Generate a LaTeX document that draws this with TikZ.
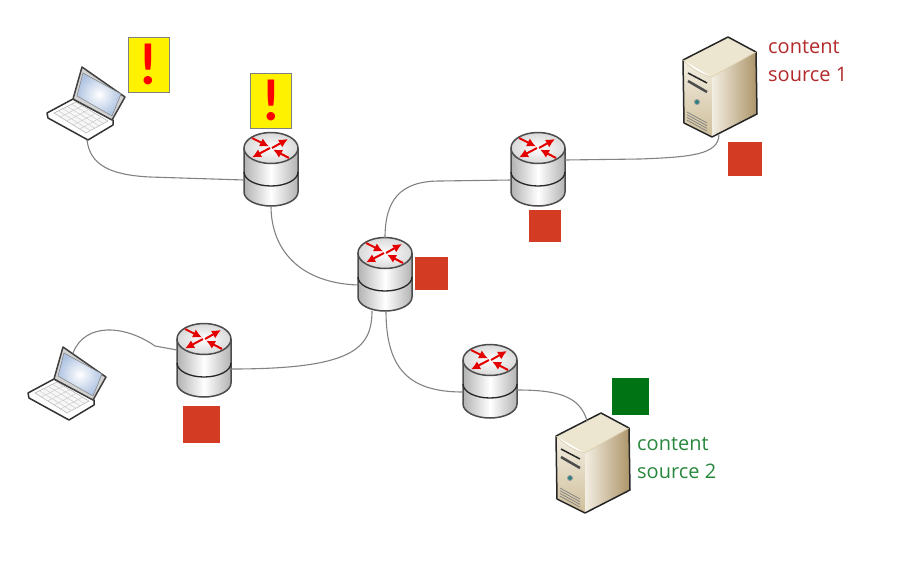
\documentclass[tikz,border=0pt]{standalone}
\usepackage{fontspec}
\setmainfont{Open Sans}
\newfontfamily\bangfont{Lato}
\usetikzlibrary{arrows.meta,calc}

\definecolor{squarered}{RGB}{211,60,35}
\definecolor{squaregreen}{RGB}{0,115,20}
\definecolor{labelred}{RGB}{178,42,42}
\definecolor{labelgreen}{RGB}{40,135,60}
\definecolor{cable}{RGB}{130,130,130}
\definecolor{servertop}{RGB}{236,229,208}
\definecolor{serverlight}{RGB}{243,238,226}
\definecolor{servermid}{RGB}{218,204,170}
\definecolor{serverdark}{RGB}{172,148,104}
\definecolor{screenblue}{RGB}{176,196,226}

\tikzset{
	link/.style = {draw=cable, line width=1.1pt},
	marker/.style = {inner sep=0, draw=none, minimum width=#1, minimum height=#1},
	alert/.style = {inner sep=0, fill=yellow, draw=gray, line width=1pt, minimum width=41pt, minimum height=55pt,
		text=red, font=\fontsize{56}{56}\selectfont\bangfont\bfseries},
	sourcelabel/.style = {anchor=north west, align=left, inner sep=0, font=\fontsize{20}{28}\selectfont},
	router/.pic = {
		\shade[left color=gray!60, right color=gray!60, middle color=white] (-27,0) -- (-27,44)
			arc[start angle=180, end angle=0, x radius=27, y radius=14] -- (27,0) -- cycle;
		\shade[inner color=white, outer color=gray!30] (0,0) ellipse[x radius=27, y radius=15.5];
		\draw[black!70, line width=1.5pt] (0,0) ellipse[x radius=27, y radius=15.5];
		\draw[black!70, line width=1.5pt] (-27,0) -- (-27,44)
			arc[start angle=180, end angle=0, x radius=27, y radius=14] -- (27,0);
		\draw[black!85, line width=1.3pt] (-27,24) arc[start angle=180, end angle=0, x radius=27, y radius=14];
		\foreach \xa/\ya/\xb/\yb in {1/0/17/-9, -1/0/-19/9.5, -19/-10/-2/-1.5, 18/10/2/1.5}
			\draw[-{Latex[length=9pt,width=9pt]}, red!90!black, line width=2pt] (\xa,\ya) -- (\xb,\yb);
		\coordinate (-left) at (-27,32);
		\coordinate (-right) at (27,12);
		\coordinate (-top) at (0,-15);
		\coordinate (-bottom) at (0,58);
	},
	laptop/.pic = {
		\draw[black!80, fill=white, line width=1.5pt, line join=round] (-9,32) -- (-35,46) -- (-34,51) -- (6,73) -- (31,58) -- (31,53) -- (-9,32);
		\draw[gray!60, fill=gray!6, line width=0.5pt] (-28,46) -- (-6,35) -- (26,54) -- (4,66) -- cycle;
		\foreach \t in {0.2,0.4,0.6,0.8} {
			\draw[gray!40, line width=0.5pt] ($(-28,46)!\t!(-6,35)$) -- ($(4,66)!\t!(26,54)$);
			\draw[gray!40, line width=0.5pt] ($(-28,46)!\t!(4,66)$) -- ($(-6,35)!\t!(26,54)$);
		}
		\draw[black!75, fill=gray!35, line width=1.5pt, line join=round] (0,0) -- (43,30) -- (30,53) -- (-9,32) -- cycle;
		\shade[inner color=white, outer color=screenblue] (1,6) -- (39,27) -- (30,49) -- (-5,29) -- cycle;
		\draw[gray, line width=0.5pt] (1,6) -- (39,27) -- (30,49) -- (-5,29) -- cycle;
		\coordinate (-base) at (5,73);
		\coordinate (-lid) at (10,6);
	},
	server/.pic = {
		\fill[servertop] (0,0) -- (28,15) -- (-16,40) -- (-45,23) -- cycle;
		\shade[top color=serverlight, bottom color=servermid!75!serverdark] (-45,23) .. controls (-35,33) and (-25,38) .. (-16,40) -- (-16,100) -- (-44,86) -- cycle;
		\shade[left color=serverlight, right color=serverdark] (-16,40) -- (28,15) -- (29,77) -- (-16,100) -- cycle;
		\draw[black!85, line width=1.5pt, line join=round] (0,0) -- (28,15) -- (29,77) -- (-16,100) -- (-44,86) -- (-45,23) -- cycle;
		\draw[servermid, line width=0.6pt] (-45,23) .. controls (-35,33) and (-25,38) .. (-16,40) -- (28,15);
		\draw[black!85, line width=1.5pt] (-40,36) -- (-21,46);
		\draw[black!70, line width=2.5pt] (-40,44) -- (-21,55);
		\fill[teal!70!gray, draw=gray!80, line width=0.8pt] (-31,65) circle (2.5pt);
		\foreach \k in {0,2.7,5.4,8.1}
			\draw[gray, line width=0.7pt] (-41,{75+\k}) -- (-21,{86+\k});
		\coordinate (-cable) at (-9,98);
		\coordinate (-top) at (-14,8);
	}
}

\begin{document}
\begin{tikzpicture}[x=1pt, y=-1pt]
	\useasboundingbox (0,0) rectangle (900,574);

	\pic (lap1) at (82,67) {laptop};
	\pic (lap2) at (63,347) {laptop};
	\pic (edge1) at (271,148) {router};
	\pic (core) at (385,253) {router};
	\pic (edge2) at (538,148) {router};
	\pic (edge3) at (204,339) {router};
	\pic (edge4) at (490,360) {router};
	\pic (srv1) at (728,37) {server};
	\pic (srv2) at (601,413) {server};

	\node[alert] (warn1) at (148.5,64.5) {!};
	\node[alert] (warn2) at (271,100.5) {!};
	\node[marker=34pt, fill=squarered] (sq1) at (745,158.5) {};
	\node[marker=32pt, fill=squarered] (sq2) at (544.5,226) {};
	\node[marker=33pt, fill=squarered] (sq3) at (431.5,273.5) {};
	\node[marker=37pt, fill=squarered] (sq4) at (201.5,424) {};
	\node[marker=37pt, fill=squaregreen] (sq5) at (630.5,396) {};

	\node[sourcelabel, text=labelred] (label1) at (768,40) {content\\source 1};
	\node[sourcelabel, text=labelgreen] (label2) at (637,437) {content\\source 2};

	\draw[link] (lap1-base) .. controls (90,165) and (110,175) .. (150,177) -- (edge1-left);
	\draw[link] (edge1-bottom) .. controls (271,250) and (300,283) .. (core-left);
	\draw[link] (core-top) .. controls (385,200) and (400,181) .. (440,181) -- (edge2-left);
	\draw[link] (edge2-right) -- (640,159) .. controls (690,157) and (718,155) .. (srv1-cable);
	\draw[link] (372,311) .. controls (372,350) and (350,369) .. (231,369);
	\draw[link] (386,311) .. controls (386,370) and (410,392) .. (463,392);
	\draw[link] (517,390) .. controls (555,390) and (580,395) .. (srv2-top);
	\draw[link] (lap2-lid) .. controls (85,322) and (125,325) .. (155,346) -- (177,350);
\end{tikzpicture}
\end{document}
